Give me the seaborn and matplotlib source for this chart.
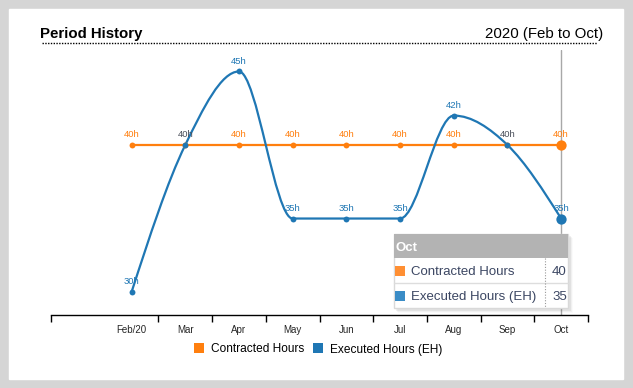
import numpy as np
import pandas as pd
import matplotlib
matplotlib.use("Agg")
import matplotlib.pyplot as plt
import seaborn as sns
from matplotlib.path import Path
from matplotlib.patches import PathPatch, Rectangle

# datos
months = ["Feb/20", "Mar", "Apr", "May", "Jun", "Jul", "Aug", "Sep", "Oct"]
contracted = [40, 40, 40, 40, 40, 40, 40, 40, 40]
executed = [30, 40, 45, 35, 35, 35, 42, 40, 35]
series_names = ["Contracted Hours", "Executed Hours (EH)"]
title = "Period History"
subtitle = "2020 (Feb to Oct)"
hover = "Oct"

ORANGE = "#ff7f0e"
BLUE = "#1f77b4"

sns.set_style("white")
plt.rcParams["font.family"] = ["Liberation Sans", "DejaVu Sans"]

df = pd.DataFrame({"x": np.arange(len(months)), "month": months,
                   "contracted": contracted, "executed": executed})

W, H = 633, 388
fig = plt.figure(figsize=(W / 100, H / 100), dpi=100)
fig.patch.set_facecolor("#d5d5d5")
fig.add_artist(Rectangle((9 / W, 1 - 379 / H), 614 / W, 370 / H,
                         transform=fig.transFigure, color="white", zorder=0))

ax = fig.add_axes([51 / W, 1 - 315 / H, 537 / W, 265 / H])
ax.set_facecolor("none")
ax.set_xlim(-1.5, 8.5)
ax.set_ylim(28.44, 46.46)


# curva monotone X (como d3) hecha con beziers
def monotone_path(xs, ys):
    xs = np.asarray(xs, float)
    ys = np.asarray(ys, float)
    n = len(xs)
    t = np.zeros(n)
    for i in range(1, n - 1):
        h0, h1 = xs[i] - xs[i - 1], xs[i + 1] - xs[i]
        s0, s1 = (ys[i] - ys[i - 1]) / h0, (ys[i + 1] - ys[i]) / h1
        p = (s0 * h1 + s1 * h0) / (h0 + h1)
        sg = (-1 if s0 < 0 else 1) + (-1 if s1 < 0 else 1)
        t[i] = sg * min(abs(s0), abs(s1), 0.5 * abs(p))
    t[0] = (3 * (ys[1] - ys[0]) / (xs[1] - xs[0]) - t[1]) / 2
    t[-1] = (3 * (ys[-1] - ys[-2]) / (xs[-1] - xs[-2]) - t[-2]) / 2
    verts = [(xs[0], ys[0])]
    codes = [Path.MOVETO]
    for i in range(n - 1):
        dx = (xs[i + 1] - xs[i]) / 3
        verts += [(xs[i] + dx, ys[i] + dx * t[i]),
                  (xs[i + 1] - dx, ys[i + 1] - dx * t[i + 1]),
                  (xs[i + 1], ys[i + 1])]
        codes += [Path.CURVE4] * 3
    return Path(verts, codes)


hi = months.index(hover)
ax.axvline(hi, color="#a8a8a8", lw=1, zorder=1)

sns.lineplot(data=df, x="x", y="contracted", color=ORANGE, lw=1.6, ax=ax, zorder=2)
ax.add_patch(PathPatch(monotone_path(df.x, df.executed), fill=False,
                       edgecolor=BLUE, lw=1.6, zorder=3))

small = df[df.month != hover]
big = df[df.month == hover]
sns.scatterplot(data=small, x="x", y="contracted", color=ORANGE, s=18,
                linewidth=0, ax=ax, zorder=4)
sns.scatterplot(data=small, x="x", y="executed", color=BLUE, s=18,
                linewidth=0, ax=ax, zorder=5)
sns.scatterplot(data=big, x="x", y="contracted", color=ORANGE, s=55,
                linewidth=0, ax=ax, zorder=4)
sns.scatterplot(data=big, x="x", y="executed", color=BLUE, s=55,
                linewidth=0, ax=ax, zorder=5)

for i, (c, e) in enumerate(zip(contracted, executed)):
    col_c = ORANGE if c != e else "#4a4f5a"
    ax.annotate(f"{c}h", (i, c), xytext=(0, 5.5), textcoords="offset points",
                ha="center", fontsize=6.8, color=col_c, zorder=6)
    if c != e:
        ax.annotate(f"{e}h", (i, e), xytext=(0, 5.5), textcoords="offset points",
                    ha="center", fontsize=6.8, color=BLUE, zorder=6)

# ejes
for s in ["top", "right", "left"]:
    ax.spines[s].set_visible(False)
ax.spines["bottom"].set_color("black")
ax.spines["bottom"].set_linewidth(1)
ax.set_yticks([])
ax.set_xticks(range(len(months)))
ax.set_xticklabels(months, fontsize=7)
ax.tick_params(axis="x", which="major", bottom=False, pad=3.5)
ax.set_xticks([-1.5] + [i + 0.5 for i in range(len(months))], minor=True)
ax.tick_params(axis="x", which="minor", bottom=True, length=5, width=1,
               color="black", direction="out")
ax.set_xlabel("")
ax.set_ylabel("")

# titulo
fig.text(40 / W, 1 - 38 / H, title, fontsize=10.8, fontweight="bold", color="black")
fig.text(603 / W, 1 - 38 / H, subtitle, fontsize=10.8, ha="right", color="black")
fig.add_artist(plt.Line2D([42 / W, 597 / W], [1 - 43 / H] * 2, color="black",
                          lw=1, ls=(0, (1, 1)), transform=fig.transFigure))

# tooltip
TXT = "#3b4662"


def box(x0, y0, x1, y1, **kw):
    fig.add_artist(Rectangle((x0 / W, 1 - y1 / H), (x1 - x0) / W, (y1 - y0) / H,
                             transform=fig.transFigure, **kw))


for k, a in enumerate([0.06, 0.04, 0.02]):
    box(396 + k, 236 + k, 571 + k, 311 + k, color="black", alpha=a, lw=0, zorder=7)
box(394, 234, 568, 308, facecolor="white", edgecolor="#d9d9d9", lw=1, zorder=8)
box(394, 234, 568, 258, color="#b3b3b3", lw=0, zorder=9)
fig.text(396 / W, 1 - 251 / H, hover, fontsize=9.5, fontweight="bold",
         color="white", zorder=10)
fig.add_artist(plt.Line2D([394 / W, 568 / W], [1 - 283 / H] * 2, color="#dddddd",
                          lw=1, transform=fig.transFigure, zorder=9))
fig.add_artist(plt.Line2D([545 / W, 545 / W], [1 - 258 / H, 1 - 308 / H],
                          color="#999999", lw=0.8, ls=(0, (1, 1.5)),
                          transform=fig.transFigure, zorder=9))
rows = [(series_names[0], "#ff8f33", contracted[hi]),
        (series_names[1], "#3a8cc6", executed[hi])]
for r, (name, col, val) in enumerate(rows):
    yc = 270.5 + 25 * r
    box(395, yc - 5, 405, yc + 5, color=col, lw=0, zorder=10)
    fig.text(411 / W, 1 - (yc + 4.5) / H, name, fontsize=9.5, color=TXT, zorder=10)
    fig.text(552 / W, 1 - (yc + 4.5) / H, str(val), fontsize=9.5, color=TXT, zorder=10)

# leyenda
for name, col, x0 in [(series_names[0], ORANGE, 194), (series_names[1], BLUE, 313)]:
    box(x0, 343, x0 + 10, 353, color=col, lw=0, zorder=5)
    fig.text((x0 + 17) / W, 1 - 352.5 / H, name, fontsize=8.6, color="black")

fig.savefig("out.png", dpi=100)
